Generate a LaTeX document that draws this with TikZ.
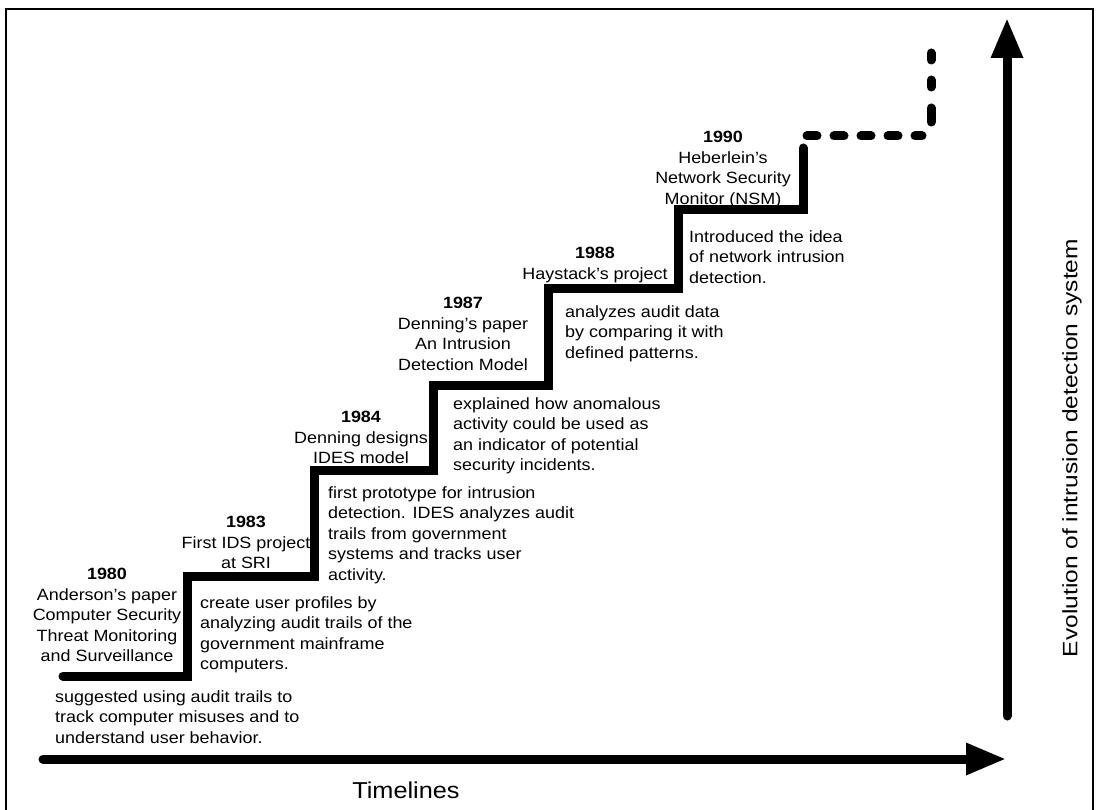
\documentclass[tikz,border=0pt]{standalone}
\usepackage{fontspec}
\setmainfont{Liberation Sans}[FakeStretch=1.1]
\newfontfamily\plainsans{Liberation Sans}
\usetikzlibrary{arrows.meta}
\begin{document}
\begin{tikzpicture}[x=1pt,y=-1pt,
  stair/.style={line width=9pt, line cap=round, line join=miter},
  axisline/.style={line width=9pt, line cap=round, -{Triangle[length=40pt,width=30pt]}},
  titletext/.style={align=center, anchor=north, inner sep=0pt, font=\fontsize{16.3}{20.5}\selectfont},
  desctext/.style={align=left, anchor=north west, inner sep=0pt, font=\fontsize{16.3}{20.5}\selectfont},
  frameline/.style={line width=2.5pt},
]
\useasboundingbox (0,0) rectangle (1096,810);
% frame
\draw[frameline] (6,815) -- (6,9) -- (1093,9) -- (1093,815);
% axes
\coordinate (hx0) at (43,759);
\coordinate (hx1) at (1006,759);
\coordinate (vy0) at (1007,716);
\coordinate (vy1) at (1007,18);
\draw[axisline] (hx0) -- (hx1);
\draw[axisline] (vy0) -- (vy1);
\node[inner sep=0pt, font=\fontsize{23}{26}\selectfont] (tl) at (406,790) {Timelines};
\node[inner sep=0pt, rotate=90, yscale=0.85, font=\plainsans\fontsize{24.5}{27}\selectfont] (ev) at (1072,448) {Evolution of intrusion detection system};
% staircase
\draw[stair] (63,676) -- (187,676) -- (187,576) -- (314,576) -- (314,470) -- (433,470)
  -- (433,386) -- (548,386) -- (548,289) -- (678,289) -- (678,210) -- (803,210) -- (803,148);
\draw[line width=9pt, line cap=round, dash pattern=on 10pt off 17pt] (807,136) -- (922,136);
\draw[line width=9pt, line cap=round, dash pattern=on 14pt off 21pt on 7pt off 20pt on 7pt off 100pt] (931,122) -- (931,50);
% titles
\node[titletext] (t1980) at (107,568) {\textbf{1980}\\Anderson's paper\\Computer Security\\Threat Monitoring\\and Surveillance};
\node[titletext] (t1983) at (246,516) {\textbf{1983}\\First IDS project\\at SRI};
\node[titletext] (t1984) at (361,411) {\textbf{1984}\\Denning designs\\IDES model};
\node[titletext] (t1987) at (463,297) {\textbf{1987}\\Denning's paper\\An Intrusion\\Detection Model};
\node[titletext] (t1988) at (595,247) {\textbf{1988}\\Haystack's project};
\node[titletext] (t1990) at (723,131) {\textbf{1990}\\Heberlein's\\Network Security\\Monitor (NSM)};
% descriptions
\node[desctext] (d1980) at (55,690) {suggested using audit trails to\\track computer misuses and to\\understand user behavior.};
\node[desctext] (d1983) at (200,596) {create user profiles by\\analyzing audit trails of the\\government mainframe\\computers.};
\node[desctext] (d1984) at (328,486) {first prototype for intrusion\\detection. IDES analyzes audit\\trails from government\\systems and tracks user\\activity.};
\node[desctext] (d1987) at (453,397) {explained how anomalous\\activity could be used as\\an indicator of potential\\security incidents.};
\node[desctext] (d1988) at (565,305) {analyzes audit data\\by comparing it with\\defined patterns.};
\node[desctext] (d1990) at (689,230) {Introduced the idea\\of network intrusion\\detection.};
\end{tikzpicture}
\end{document}
